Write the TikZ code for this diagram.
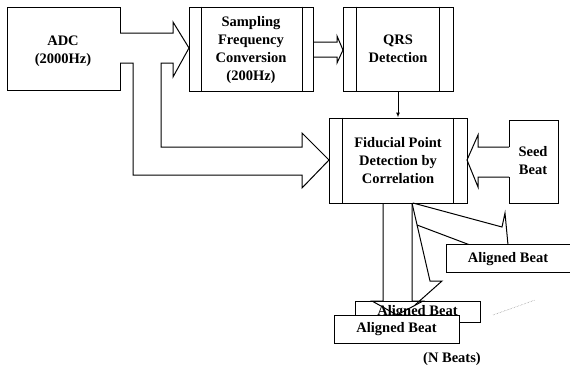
\documentclass[tikz,border=0pt]{standalone}
\usepackage{fontspec}
\setmainfont{Liberation Serif}
\usetikzlibrary{arrows.meta}
\tikzset{
  box/.style={draw, fill=white, line width=1pt, inner sep=0pt, align=center},
  lbl/.style={align=center, inner sep=0pt},
  fat/.style={draw, line width=1pt, line join=miter},
  bar/.style={line width=1pt}
}
\begin{document}
\begin{tikzpicture}[x=1pt,y=-1pt,font=\bfseries\fontsize{14.5}{18}\selectfont]
\useasboundingbox (0,0) rectangle (570,372);
% ADC with its split arrow
\draw[fat] (120,33)--(120,7)--(7,7)--(7,90)--(120,90)--(120,63);
\node[lbl] (adc) at (63,51) {ADC\\(2000Hz)};
\draw[fat] (120,33)--(173,33)--(173,22)--(189,48)--(173,77)--(173,63)
--(161,63)--(161,147)--(302,147)--(302,133)--(329,160)--(302,188)
--(302,175)--(133,175)--(133,63)--(120,63);
% processing boxes
\node[box, minimum width=124pt, minimum height=84pt] (samp) at (251,49) {};
\node[lbl] at (251,50) {Sampling\\Frequency\\Conversion\\(200Hz)};
\draw[bar] ([xshift=13pt]samp.north west)--([xshift=13pt]samp.south west);
\draw[bar] ([xshift=-11pt]samp.north east)--([xshift=-11pt]samp.south east);
\draw[fat] (313,42)--(337,42)--(337,36)--(343,50)--(337,63)--(337,57)--(313,57);
\node[box, minimum width=110pt, minimum height=84pt] (qrs) at (398,49) {};
\node[lbl] at (398,49) {QRS\\Detection};
\draw[bar] ([xshift=14pt]qrs.north west)--([xshift=14pt]qrs.south west);
\draw[bar] ([xshift=-14pt]qrs.north east)--([xshift=-14pt]qrs.south east);
\node[box, minimum width=138pt, minimum height=85pt] (fid) at (398,160.5) {};
\node[lbl] at (398,161) {Fiducial Point\\Detection by\\Correlation};
\draw[bar] ([xshift=14pt]fid.north west)--([xshift=14pt]fid.south west);
\draw[bar] ([xshift=-14pt]fid.north east)--([xshift=-14pt]fid.south east);
\draw[bar, -{Latex[length=5pt,width=4pt]}] (qrs.south)--(fid.north);
% seed beat
\draw[fat] (509,147)--(509,120)--(558,120)--(558,203)--(509,203)--(509,177);
\node[lbl] (seed) at (533,161) {Seed\\Beat};
\draw[fat] (509,147)--(478,147)--(478,135)--(467,160)--(478,187)--(478,177)--(509,177);
% aligned beats
\node[box, minimum width=125pt, minimum height=21pt] (beatb) at (417.5,311.5) {};
\node[lbl] at (417.5,312.5) {Aligned Beat};
\draw[fat] (383,203)--(383,301)--(372,301)--(397,315)--(423,301)--(412,301)--(412,203);
\draw[fat] (412,203)--(430,281)--(442,281)--(415,305);
\draw[fat] (413,203)--(502,227)--(505,213)--(508,245);
\draw[fat] (417,225)--(470,245);
\node[box, minimum width=124pt, minimum height=28pt] (beatc) at (508,258.5) {};
\node[lbl] at (508,259.5) {Aligned Beat};
\node[box, minimum width=125pt, minimum height=28pt] (beata) at (396.5,329) {};
\node[lbl] at (396.5,329.5) {Aligned Beat};
\draw[gray, densely dotted, line width=0.5pt] (493,315)--(535,300);
\node[lbl] (nb) at (452,359) {(N Beats)};
\end{tikzpicture}
\end{document}
